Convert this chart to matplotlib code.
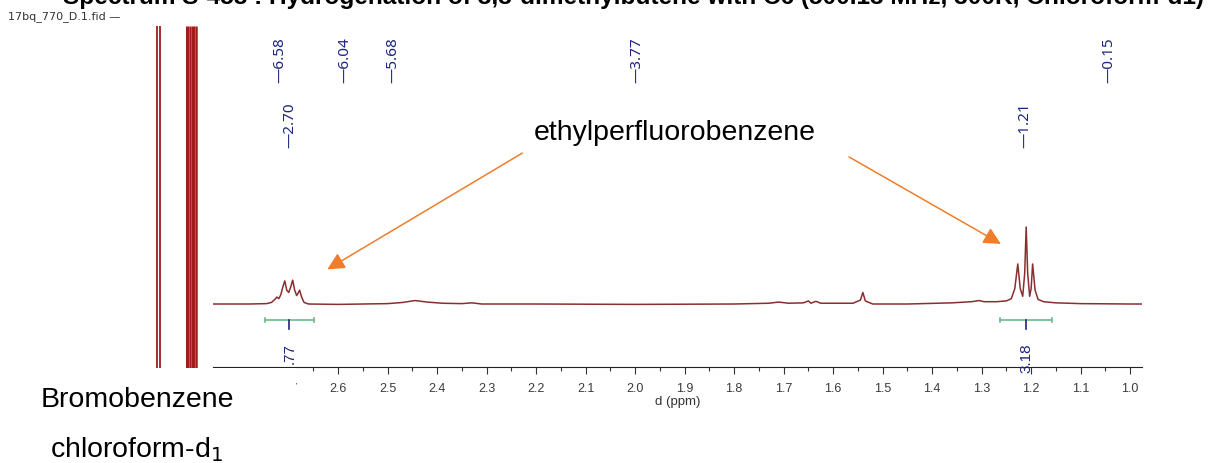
import numpy as np
import matplotlib.pyplot as plt
from matplotlib.patches import Rectangle

plt.rcParams['font.family'] = ['Liberation Sans', 'DejaVu Sans']

# spectrum trace (ppm, relative intensity)
ppm = [2.853, 2.78, 2.745, 2.735, 2.728, 2.724, 2.720, 2.716, 2.712, 2.708, 2.704, 2.700,
       2.696, 2.692, 2.688, 2.684, 2.681, 2.678, 2.674, 2.669, 2.66, 2.60, 2.50, 2.47,
       2.445, 2.42, 2.39, 2.35, 2.33, 2.31, 2.2, 2.0, 1.8, 1.73, 1.71, 1.69, 1.66, 1.65,
       1.645, 1.635, 1.625, 1.56, 1.545, 1.54, 1.535, 1.52, 1.45, 1.36, 1.32, 1.305,
       1.295, 1.27, 1.25, 1.240, 1.233, 1.227, 1.222, 1.217, 1.213, 1.210, 1.207, 1.203,
       1.200, 1.197, 1.192, 1.186, 1.175, 1.15, 1.1, 1.0, 0.976]
intensity = [0.0, 0.0, 0.005, 0.02, 0.06, 0.09, 0.07, 0.12, 0.22, 0.30, 0.18, 0.15,
             0.22, 0.31, 0.18, 0.11, 0.14, 0.18, 0.09, 0.02, 0.0, -0.005, 0.005, 0.02,
             0.045, 0.025, 0.01, 0.005, 0.015, 0.0, 0.0, -0.005, 0.0, 0.01, 0.025, 0.01, 0.015, 0.04,
             0.01, 0.035, 0.01, 0.01, 0.05, 0.15, 0.04, 0.0, 0.0, 0.015, 0.03, 0.045,
             0.03, 0.03, 0.04, 0.07, 0.2, 0.52, 0.2, 0.1, 0.4, 1.0, 0.4, 0.1,
             0.2, 0.52, 0.18, 0.06, 0.03, 0.015, 0.005, 0.0, 0.0]

# off-scale solvent lines at the left edge
solvent_lines = [2.967, 2.960, 2.905, 2.899, 2.893, 2.887]

# peak labels (text, ppm, row)
peak_text = ['6.58', '2.70', '6.04', '5.68', '3.77', '1.21', '0.15']
peak_ppm = [2.717, 2.697, 2.586, 2.489, 1.996, 1.212, 1.042]
peak_row = [0, 1, 0, 0, 0, 1, 0]

# integrals
int_from = [2.747, 1.263]
int_to = [2.648, 1.158]
int_mid = [2.699, 1.210]
int_text = ['.77', '3.18']

trace_col = '#8b2e2e'
navy = '#1c2480'
green = '#6cbb8c'
orange = '#ef7d2b'

fig = plt.figure(figsize=(12.19, 4.64), dpi=100)
ax = fig.add_axes([213/1219, 96/464, 929/1219, 341/464])
ax.set_xlim(2.853, 0.976)
ax.set_ylim(-0.818, 3.61)

ax.plot(ppm, intensity, color=trace_col, lw=1.1)

# solvent peaks going off the top
ax.axvspan(2.966, 2.961, ymin=0.34, ymax=1, color='#f2cccc', lw=0)
ax.axvspan(2.907, 2.885, color='#e8b0b0', lw=0)
ax.vlines(solvent_lines, -0.85, 3.61, color='#a31c1c', lw=[1.3, 1.3, 2.2, 1.8, 2.2, 1.8],
          clip_on=False)

# peak labels
for t, p, r in zip(peak_text, peak_ppm, peak_row):
    ax.text(p, 2.88 if r == 0 else 2.04, '\u2014' + t, rotation=90, ha='center', va='bottom',
            color=navy, fontsize=11, family='Noto Sans')

# integrals
for a, b, m, t in zip(int_from, int_to, int_mid, int_text):
    ax.plot([a, b], [-0.208, -0.208], color=green, lw=1.2)
    ax.plot([a, a], [-0.24, -0.176], color=green, lw=1.2)
    ax.plot([b, b], [-0.24, -0.176], color=green, lw=1.2)
    ax.plot([m, m], [-0.208, -0.325], color=navy, lw=1.2)
    ax.text(m, -0.5, t, rotation=90, ha='center', va='top', color=navy, fontsize=11)

# annotation arrows
ax.annotate('', xy=(2.622, 0.45), xytext=(2.228, 1.96),
            arrowprops=dict(arrowstyle='-|>', mutation_scale=26, color=orange, lw=1.1, shrinkA=0, shrinkB=0))
ax.annotate('', xy=(1.261, 0.78), xytext=(1.568, 1.91),
            arrowprops=dict(arrowstyle='-|>', mutation_scale=26, color=orange, lw=1.1, shrinkA=0, shrinkB=0))
ax.text(1.92, 2.23, 'ethylperfluorobenzene', ha='center', va='center', fontsize=20.5)

# axis styling
for s in ['top', 'left', 'right']:
    ax.spines[s].set_visible(False)
ax.spines['bottom'].set_color('#222222')
ax.set_yticks([])
ax.set_xticks(np.arange(1.0, 2.81, 0.1))
ax.set_xticks(np.arange(1.05, 2.86, 0.1), minor=True)
ax.xaxis.set_major_formatter(plt.FormatStrFormatter('%.1f'))
ax.tick_params(axis='x', which='major', length=5, width=0.8, color='#333333', labelsize=9,
               labelcolor='#3a3a3a', pad=6)
ax.tick_params(axis='x', which='minor', length=3, width=0.8, color='#333333')
ax.set_xlabel('d (ppm)', fontsize=9.5, color='#333333')
ax.xaxis.set_label_coords(0.5, -0.082)

# white box with solvent names
fig.add_artist(Rectangle((0, 0), 296/1219, 95/464, transform=fig.transFigure,
                         facecolor='white', edgecolor='none', zorder=2))
fig.text(41/1219, 1 - 407/464, 'Bromobenzene', fontsize=20.5, va='baseline', zorder=3)
fig.text(50/1219, 1 - 457/464, 'chloroform-d$_1$', fontsize=20.5, va='baseline', zorder=3)

fig.text(8/1219, 1 - 19/464, '17bq_770_D.1.fid \u2014', fontsize=8, family='DejaVu Sans',
         color='#333333', va='baseline')
fig.text(63/1219, 1 - 4/464,
         'Spectrum S-458 : Hydrogenation of 3,3-dimethylbutene with C6 (500.13 MHz, 300K, Chloroform-d1)',
         fontsize=17.6, weight='bold', va='baseline')

fig.savefig('out.png', dpi=100)
